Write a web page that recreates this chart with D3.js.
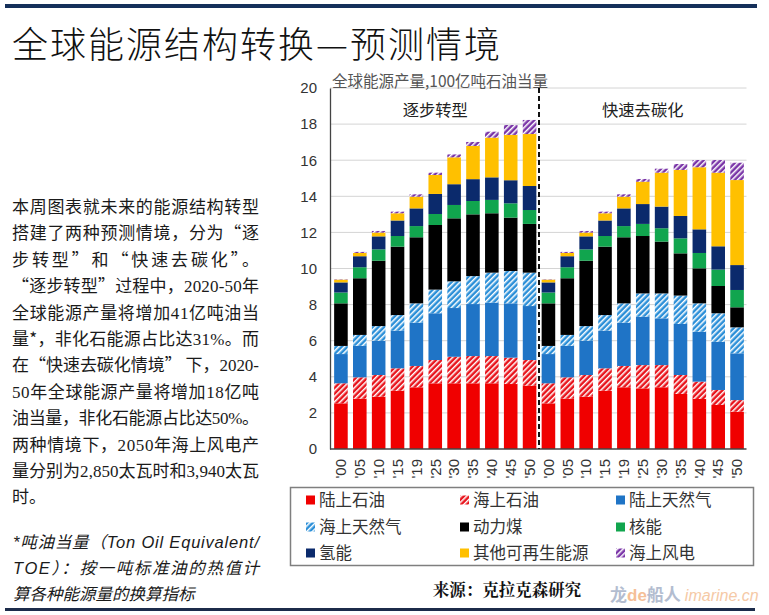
<!DOCTYPE html>
<html><head><meta charset="utf-8">
<script src="https://cdn.jsdelivr.net/npm/d3@7"></script>
<style>body{margin:0;background:#fff;} svg{display:block}</style>
</head><body>
<svg id="c" width="769" height="615"></svg>
<script>
// ---------- DATA ----------
const years = ["'00","'05","'10","'15","'19","'25","'30","'35","'40","'45","'50"];
const scenarios = ["逐步转型","快速去碳化"];
const seriesNames = ["陆上石油","海上石油","陆上天然气","海上天然气","动力煤","核能","氢能","其他可再生能源","海上风电"];
const yTicks = [0,2,4,6,8,10,12,14,16,18,20];
// each series: 11 values for 逐步转型 followed by 11 values for 快速去碳化
const onshoreOil   = [2.53,2.79,2.90,3.23,3.42,3.64,3.64,3.64,3.64,3.60,3.51, 2.53,2.79,2.90,3.23,3.42,3.36,3.42,3.05,2.77,2.44,2.07];
const offshoreOil  = [1.11,1.18,1.20,1.24,1.18,1.29,1.47,1.51,1.51,1.46,1.42, 1.11,1.18,1.20,1.24,1.18,1.29,1.23,1.05,0.96,0.83,0.64];
const onshoreGas   = [1.62,1.75,1.90,2.09,2.40,2.59,2.70,2.88,2.96,3.01,2.99, 1.62,1.75,1.90,2.09,2.40,2.68,2.59,2.83,2.77,2.67,2.59];
const offshoreGas  = [0.45,0.60,0.81,0.86,1.07,1.31,1.48,1.55,1.66,1.79,1.85, 0.45,0.60,0.81,0.86,1.07,1.29,1.38,1.57,1.57,1.58,1.44];
const coal         = [2.36,3.14,3.62,3.79,3.66,3.58,3.49,3.42,3.29,2.96,2.70, 2.36,3.14,3.62,3.79,3.66,3.18,2.87,2.34,1.94,1.51,1.11];
const nuclear      = [0.60,0.61,0.63,0.59,0.62,0.61,0.74,0.74,0.74,0.79,0.77, 0.60,0.61,0.63,0.59,0.62,0.67,0.74,0.83,0.85,0.91,0.96];
const hydro        = [0.56,0.61,0.72,0.86,0.98,1.11,1.15,1.21,1.25,1.28,1.33, 0.56,0.61,0.72,0.86,0.98,1.10,1.20,1.24,1.31,1.29,1.38];
const otherRenew   = [0.15,0.18,0.21,0.40,0.65,1.05,1.49,1.84,2.20,2.51,2.88, 0.15,0.18,0.21,0.40,0.65,1.24,1.88,2.55,3.44,4.08,4.71];
const offshoreWind = [0.02,0.06,0.09,0.09,0.13,0.13,0.16,0.22,0.33,0.55,0.78, 0.02,0.06,0.09,0.09,0.13,0.15,0.22,0.33,0.40,0.70,0.96];

const seriesValues = [onshoreOil,offshoreOil,onshoreGas,offshoreGas,coal,nuclear,hydro,otherRenew,offshoreWind];
const seriesColors = ["#f00000","#e8141c","#1f74c6","#2b8fd8","#000000","#11a54e","#0b2a6c","#ffc000","#7a35a8"];
const seriesHatched = [false,true,false,true,false,false,false,false,true];

const paraLines = [
  ["本周图表就未来的能源结构转型", true],
  ["搭建了两种预测情境，分为“逐", true],
  ["步转型”和“快速去碳化”。", true],
  ["“逐步转型”过程中，{2020-50}年", true],
  ["全球能源产量将增加{41}亿吨油当", true],
  ["量*，非化石能源占比达{31%}。而", true],
  ["在“快速去碳化情境” 下，{2020-}", true],
  ["{50}年全球能源产量将增加{18}亿吨", true],
  ["油当量，非化石能源占比达{50%}。", true],
  ["两种情境下，{2050}年海上风电产", true],
  ["量分别为{2,850}太瓦时和{3,940}太瓦", true],
  ["时。", false]
];
const noteLines = [
  ["*吨油当量（Ton Oil Equivalent/", true],
  ["TOE）：按一吨标准油的热值计", true],
  ["算各种能源量的换算指标", false]
];

// ---------- DRAW ----------
const svg = d3.select("#c");
const cjk = "'Noto Sans CJK SC', 'Liberation Sans', sans-serif";
const sans = "'Liberation Sans', 'Noto Sans CJK SC', sans-serif";
const defs = svg.append("defs");
seriesNames.forEach((n,i)=>{
  if(!seriesHatched[i]) return;
  const p = defs.append("pattern").attr("id","h"+i).attr("patternUnits","userSpaceOnUse")
    .attr("width",4).attr("height",4).attr("patternTransform","rotate(45)");
  p.append("rect").attr("width",4).attr("height",4).attr("fill",seriesColors[i]);
  p.append("rect").attr("width",1.5).attr("height",4).attr("fill","#ffffff");
});
const fillOf = i => seriesHatched[i] ? `url(#h${i})` : seriesColors[i];

// header bar & title
svg.append("rect").attr("x",5).attr("y",4).attr("width",752).attr("height",4).attr("fill","#15305a");
svg.append("text").attr("x",12).attr("y",58).attr("font-family",cjk).attr("font-weight",300)
  .attr("font-size",36).attr("fill","#111").attr("textLength",488).attr("lengthAdjust","spacing")
  .text("全球能源结构转换—预测情境");

// paragraph
function addLine(g, str, x, y, justify, width, serifFam){
  const t = g.append("text").attr("x",x).attr("y",y);
  const parts = str.split(/(\{[^}]*\})/).filter(s=>s.length);
  parts.forEach(p=>{
    if(p.startsWith("{")) t.append("tspan").attr("font-family",serifFam).text(p.slice(1,-1));
    else t.append("tspan").text(p);
  });
  if(justify) t.attr("textLength",width).attr("lengthAdjust","spacing");
  return t;
}
const para = svg.append("g").attr("font-family",cjk).attr("font-size",17).attr("fill","#1a1a1a");
paraLines.forEach((l,i)=> addLine(para, l[0], 12, 213 + i*26.4, l[1], 247, "'Liberation Serif', serif"));
const note = svg.append("g").attr("font-family",sans).attr("font-size",16.5).attr("font-style","italic").attr("fill","#1a1a1a");
noteLines.forEach((l,i)=> addLine(note, l[0], 13, 548 + i*26, l[1], 246, sans));

// chart
const x = d3.scaleBand()
  .domain(d3.range(years.length*scenarios.length))
  .range([331.5,746.5]).paddingInner(0.28).paddingOuter(0.14);
const y = d3.scaleLinear().domain([0,20]).range([449,88]);
const plotL = 330, plotR = 746.5;

const rows = d3.range(years.length*scenarios.length).map(j=>{
  const r = {idx:j};
  seriesNames.forEach((n,i)=> r[n] = seriesValues[i][j]);
  return r;
});
const stack = d3.stack().keys(seriesNames)(rows);

// grid
svg.append("g").selectAll("line").data(yTicks.filter(v=>v>0)).join("line")
  .attr("x1",plotL).attr("x2",plotR).attr("y1",d=>y(d)).attr("y2",d=>y(d))
  .attr("stroke","#d4d4d4").attr("stroke-width",1);

// bars
svg.append("g").selectAll("g").data(stack).join("g")
  .attr("fill",(d,i)=>fillOf(i))
  .selectAll("rect").data(d=>d).join("rect")
  .attr("x",d=>x(d.data.idx)).attr("width",x.bandwidth())
  .attr("y",d=>y(d[1])).attr("height",d=>Math.max(0,y(d[0])-y(d[1])));

// axes
const yAx = svg.append("g").attr("transform",`translate(${plotL},0)`)
  .call(d3.axisLeft(y).tickValues(yTicks).tickSize(0).tickPadding(13).tickSizeOuter(0));
yAx.select(".domain").attr("stroke","#444").attr("stroke-width",1.3);
yAx.selectAll("text").attr("font-family",sans).attr("font-size",15).attr("fill","#333");

const xAx = svg.append("g").attr("transform",`translate(0,${y(0)})`)
  .call(d3.axisBottom(x).tickSize(0).tickFormat(j=>years[j % years.length]));
xAx.select(".domain").remove();
xAx.selectAll("text").attr("transform","rotate(-90)").attr("x",-10).attr("y",0)
  .attr("dy","0.35em").attr("text-anchor","end")
  .attr("font-family",sans).attr("font-size",15).attr("fill","#333");
svg.append("line").attr("x1",plotL).attr("x2",plotR).attr("y1",y(0)).attr("y2",y(0))
  .attr("stroke","#444").attr("stroke-width",1.3);

// divider
const n = years.length;
const divX = (x(n-1)+x.bandwidth()+x(n))/2;
svg.append("line").attr("x1",divX).attr("x2",divX).attr("y1",y(20)).attr("y2",y(0))
  .attr("stroke","#111").attr("stroke-width",2).attr("stroke-dasharray","5,3");

// scenario labels
scenarios.forEach((s,k)=>{
  const cx = (x(k*n) + x(k*n+n-1) + x.bandwidth())/2;
  svg.append("text").attr("x",cx).attr("y",116).attr("text-anchor","middle")
    .attr("font-family",cjk).attr("font-size",16.3).attr("fill","#222").text(s);
});
svg.append("text").attr("x",332).attr("y",86.5).attr("font-family",cjk).attr("font-size",15.5)
  .attr("fill","#555").text("全球能源产量,100亿吨石油当量");

// legend
svg.append("rect").attr("x",290.5).attr("y",487.5).attr("width",463).attr("height",78)
  .attr("fill","#fff").attr("stroke","#7f7f7f").attr("stroke-width",1.5);
const colX = [306,460,616], rowY = [500,527,553];
const lg = svg.append("g");
seriesNames.forEach((name,i)=>{
  const cx = colX[i%3], cy = rowY[Math.floor(i/3)];
  lg.append("rect").attr("x",cx).attr("y",cy-4.5).attr("width",9).attr("height",9).attr("fill",fillOf(i));
  lg.append("text").attr("x",cx+13).attr("y",cy+6).attr("font-family",cjk).attr("font-size",16.5)
    .attr("fill","#333").text(name);
});

// source
svg.append("text").attr("x",507).attr("y",596).attr("text-anchor","middle")
  .attr("font-family","'Noto Serif CJK SC','Noto Sans CJK SC',serif").attr("font-weight",700)
  .attr("font-size",16.5).attr("fill","#111").text("来源：克拉克森研究");

// watermark
const wm = svg.append("text").attr("x",610).attr("y",601).attr("font-family",cjk).attr("font-size",17);
wm.append("tspan").attr("fill","#b3bdd0").attr("font-weight",700).text("龙");
wm.append("tspan").attr("fill","#f5bf98").attr("font-family",sans).attr("font-weight",700).text("de");
wm.append("tspan").attr("fill","#b3bdd0").attr("font-weight",700).text("船人");
wm.append("tspan").attr("fill","#f5c9a6").attr("font-family",sans).attr("font-style","italic").attr("font-size",16).attr("dx",4).text("imarine.cn");

svg.append("rect").attr("x",5).attr("y",608).attr("width",750).attr("height",3).attr("fill","#1c2b4a");
</script>
</body></html>
